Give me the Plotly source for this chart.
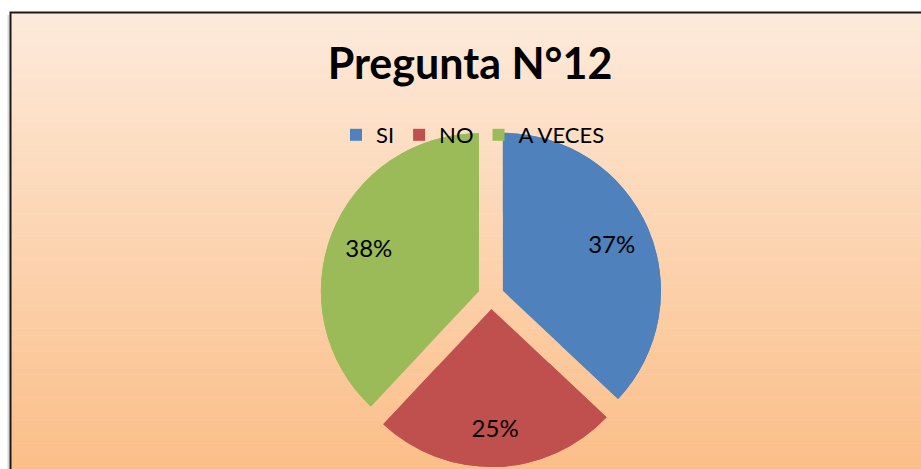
import plotly.graph_objects as go

categories = ["SI", "NO", "A VECES"]
values = [37, 25, 38]
colors = ["#4F81BD", "#C0504D", "#9BBB59"]
title_text = "Pregunta N°12"

OFF = 0  # body margin removed via post_script
W, H = 921, 469

def px(x):
    return (x - OFF) / W

def py(y):
    return 1 - (y - OFF) / H

FONT = "Lato, Open Sans, sans-serif"
dom = dict(x=[px(491 - 200), px(491 + 200)], y=[py(467), py(125)])
pulls = [0.082] * len(values)

fig = go.Figure()
# full pie (fill)
fig.add_trace(go.Pie(
    labels=categories, values=values,
    marker=dict(colors=colors, line=dict(width=0)),
    sort=False, direction="clockwise", rotation=0, pull=pulls,
    textinfo="none", domain=dom, showlegend=True,
    hoverinfo="label+percent",
))
# ring overlay carrying the percentage labels (pushes labels outward)
fig.add_trace(go.Pie(
    labels=categories, values=values, hole=0.5,
    marker=dict(colors=colors, line=dict(width=0)),
    sort=False, direction="clockwise", rotation=0, pull=pulls,
    texttemplate="%{percent:.0%}", textposition="inside",
    insidetextorientation="horizontal",
    textfont=dict(family=FONT, size=24, color="black"),
    domain=dom, showlegend=False, hoverinfo="skip",
))

shapes = []
top, bottom = 12, 472
n = 80
c0 = (253, 234, 218)
c1 = (251, 190, 136)
for i in range(n):
    t = i / (n - 1)
    c = tuple(round(c0[k] + (c1[k] - c0[k]) * t) for k in range(3))
    y0 = top + (bottom - top) * i / n
    y1 = top + (bottom - top) * (i + 1) / n + 0.6
    shapes.append(dict(type="rect", xref="paper", yref="paper",
                       x0=px(10), x1=px(940), y0=py(y0), y1=py(y1),
                       fillcolor="rgb(%d,%d,%d)" % c, line=dict(width=0), layer="below"))
shapes.append(dict(type="line", xref="paper", yref="paper", x0=px(8.5), x1=px(8.5),
                   y0=py(15), y1=py(480), line=dict(color="rgba(0,0,0,0.15)", width=2), layer="below"))
shapes.append(dict(type="rect", xref="paper", yref="paper", x0=px(10.5), x1=px(945),
                   y0=py(12.5), y1=py(490), line=dict(color="#1a1a1a", width=2), layer="below"))

fig.update_layout(
    width=W, height=H,
    margin=dict(l=0, r=0, t=0, b=0),
    paper_bgcolor="white",
    plot_bgcolor="rgba(0,0,0,0)",
    shapes=shapes,
    title=dict(text="<b>" + title_text + "</b>", x=px(470), xanchor="center",
               y=py(64), yanchor="middle",
               font=dict(family=FONT, size=43, color="black")),
    legend=dict(orientation="h", x=px(473), xanchor="center", y=py(135), yanchor="middle",
                bgcolor="rgba(0,0,0,0)", font=dict(family=FONT, size=22, color="black"),
                itemwidth=30, tracegroupgap=0),
)

fig.write_html("out.html",
               config={"displayModeBar": False},
               post_script="document.body.style.margin='0';document.body.style.overflow='hidden';")
